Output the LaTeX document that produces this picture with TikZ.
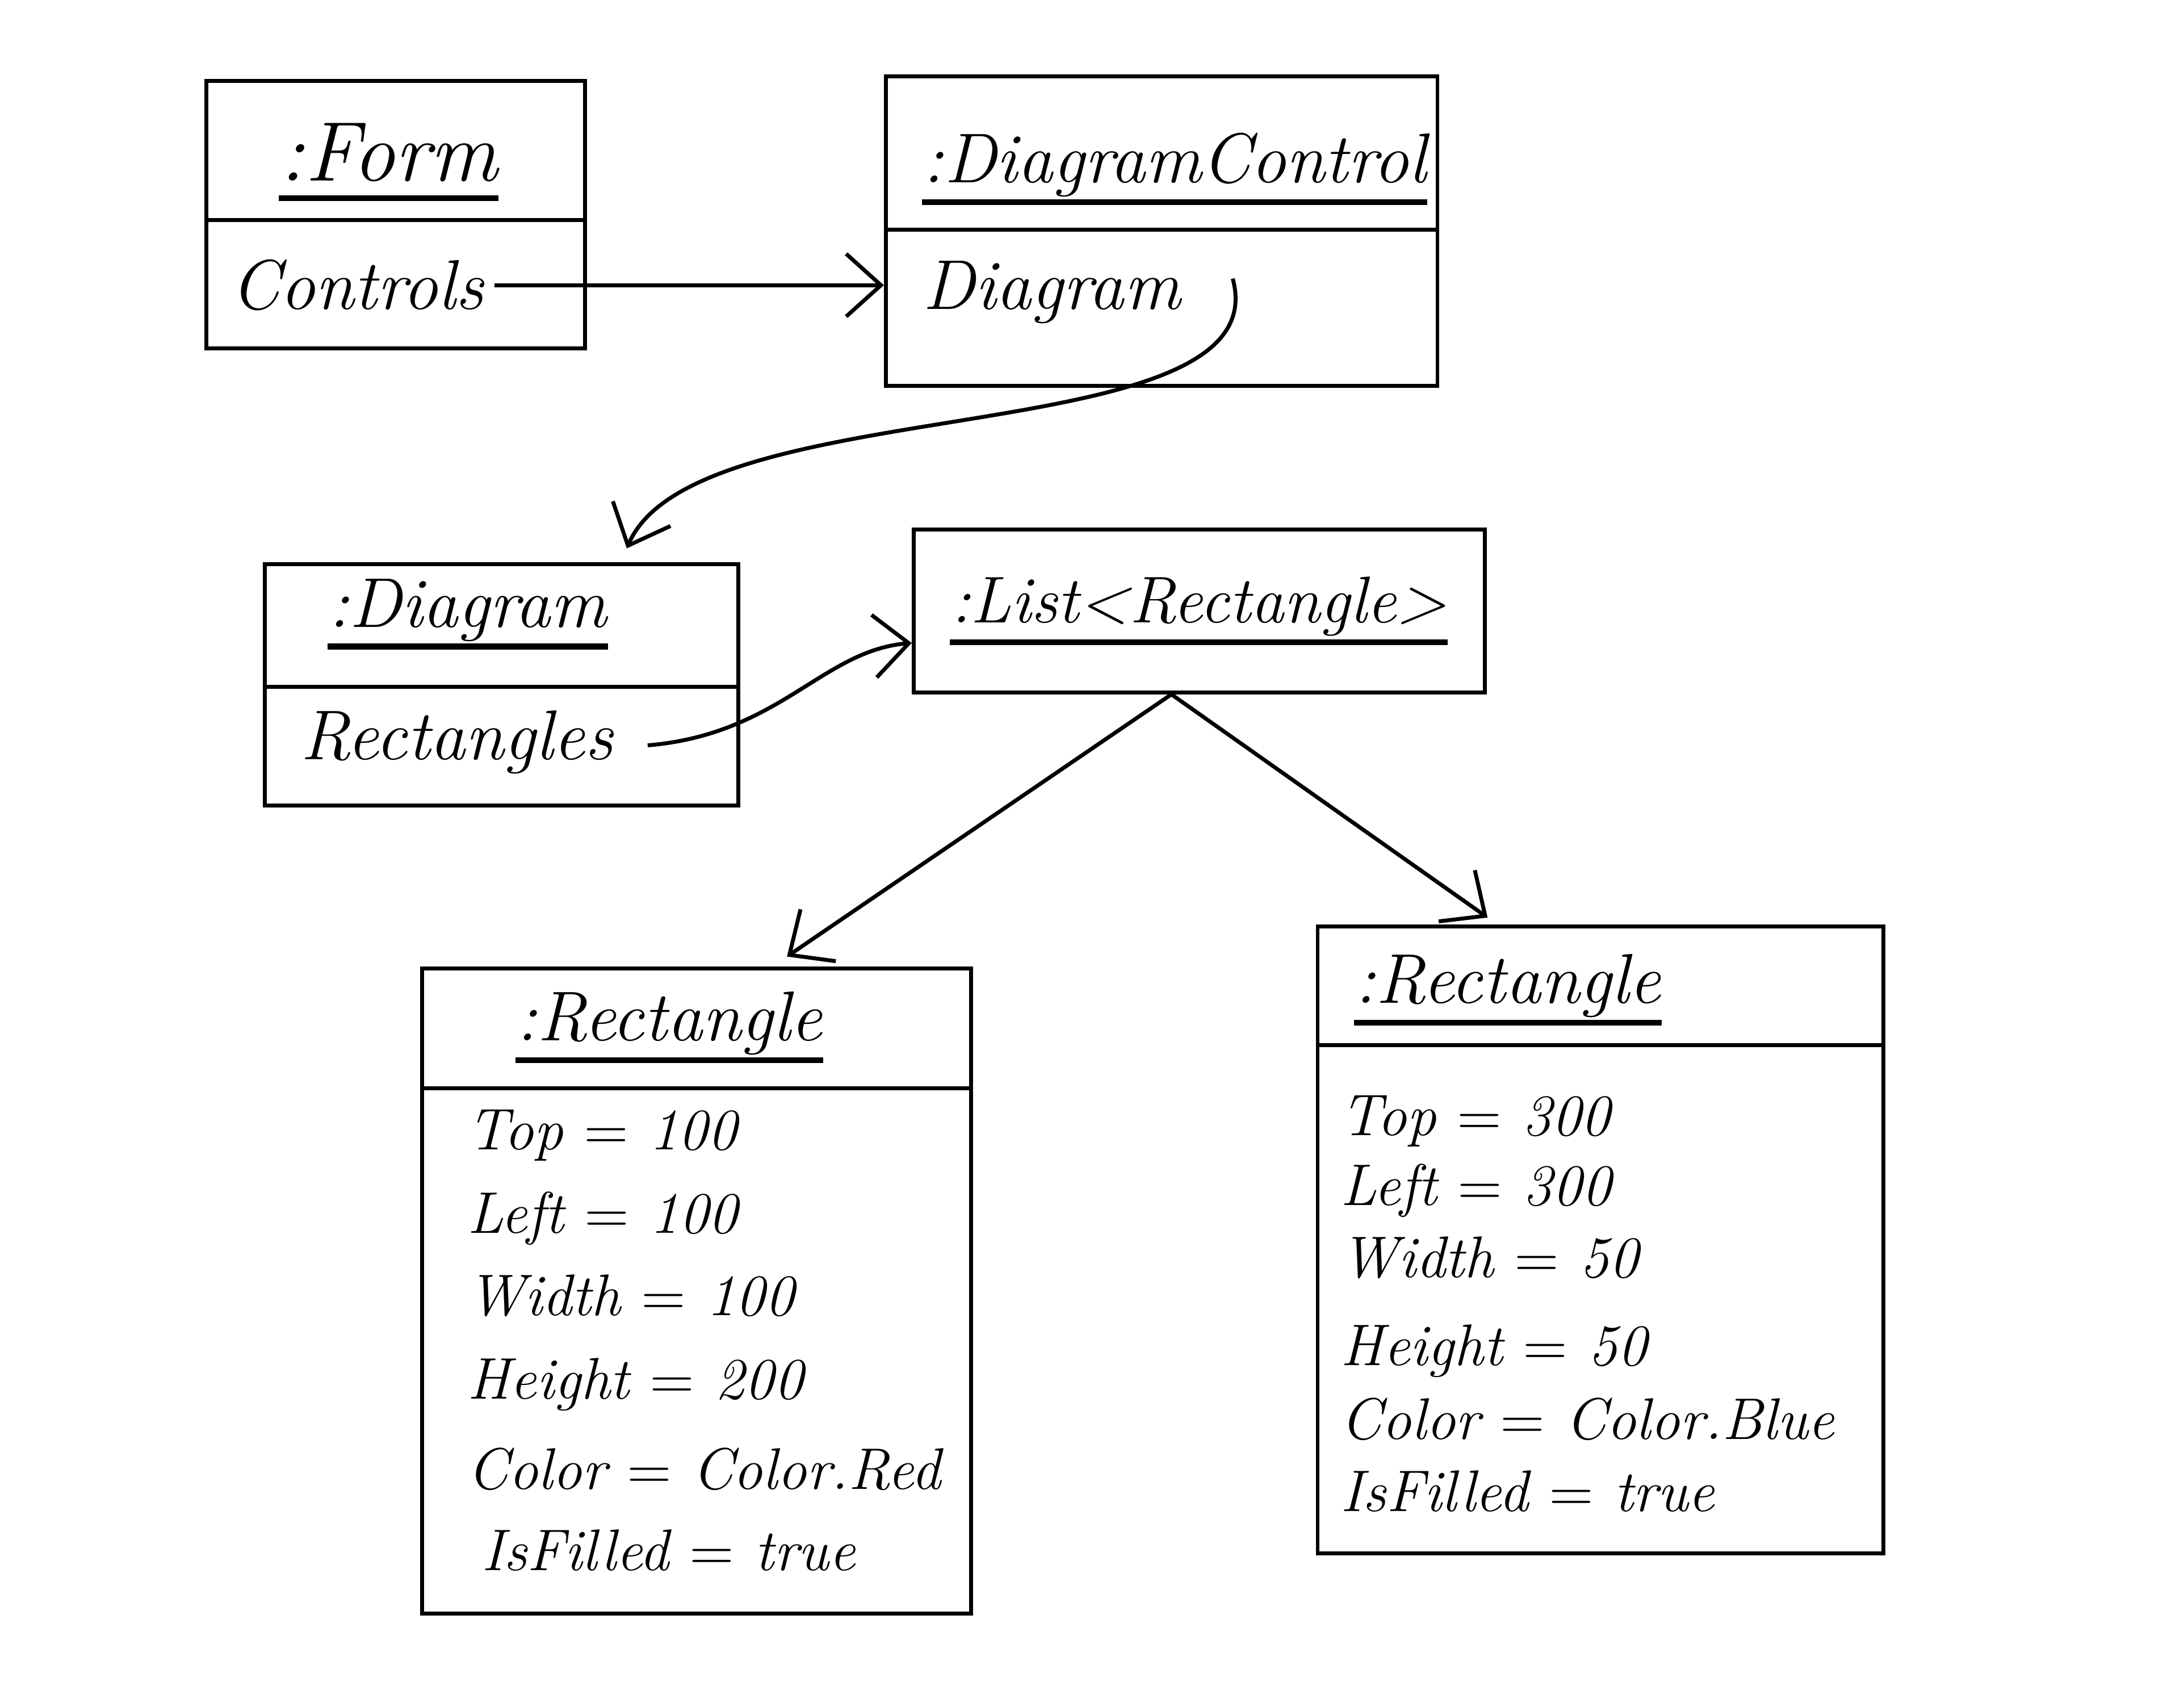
\documentclass[tikz,border=0pt]{standalone}
\usetikzlibrary{arrows.meta}

\begin{document}
\begin{tikzpicture}
\tikzset{
  ObjStyle/.style = {draw, thick, inner sep=0pt},
  TitleStyle/.style = {font = \Large\itshape, anchor=base west, inner sep=0pt},
  AttrStyle/.style = {font = \Large\itshape, anchor=base west, inner sep=0pt},
  ValStyle/.style = {font = \large\itshape, anchor=base west, inner sep=0pt},
  LineStyle/.style = {thick},
  UnderStyle/.style = {very thick},
  LinkStyle/.style = {thick, -{Straight Barb[length=2.5mm, width=4.5mm]}},
}
  \useasboundingbox (0,0) rectangle (15.68,12.07);

  % :Form
  \node[ObjStyle, minimum width=2.72cm, minimum height=1.92cm] (Form) at (2.84,10.53) {};
  \draw[LineStyle] (Form.west |- 0,10.49) -- (Form.east |- 0,10.49);
  \node[TitleStyle, font=\LARGE\itshape] (tForm) at (2.00,10.77) {:Form};
  \draw[UnderStyle] ([yshift=-3.5pt]tForm.base west) -- ([yshift=-3.5pt]tForm.base east);
  \node[AttrStyle] (aControls) at (1.65,9.85) {Controls};

  % :DiagramControl
  \node[ObjStyle, minimum width=3.96cm, minimum height=2.22cm] (DCtrl) at (8.34,10.41) {};
  \draw[LineStyle] (DCtrl.west |- 0,10.42) -- (DCtrl.east |- 0,10.42);
  \node[TitleStyle] (tDCtrl) at (6.62,10.76) {:DiagramControl};
  \draw[UnderStyle] ([yshift=-4pt]tDCtrl.base west) -- ([yshift=-4pt]tDCtrl.base east);
  \node[AttrStyle] (aDiagram) at (6.62,9.85) {Diagram};

  % :Diagram
  \node[ObjStyle, minimum width=3.40cm, minimum height=1.73cm] (Dgm) at (3.60,7.155) {};
  \draw[LineStyle] (Dgm.west |- 0,7.14) -- (Dgm.east |- 0,7.14);
  \node[TitleStyle] (tDgm) at (2.35,7.57) {:Diagram};
  \draw[UnderStyle] ([yshift=-4pt]tDgm.base west) -- ([yshift=-4pt]tDgm.base east);
  \node[AttrStyle] (aRects) at (2.15,6.62) {Rectangles};

  % :List<Rectangle>
  \node[ObjStyle, minimum width=4.10cm, minimum height=1.17cm] (Lst) at (8.61,7.685) {};
  \node[TitleStyle, font=\fontsize{13.5}{16}\selectfont\itshape] (tLst) at (6.82,7.60) {:List<Rectangle>};
  \draw[UnderStyle] ([yshift=-4pt]tLst.base west) -- ([yshift=-4pt]tLst.base east);

  % first :Rectangle
  \node[ObjStyle, minimum width=3.94cm, minimum height=4.63cm] (RectA) at (5.00,2.805) {};
  \draw[LineStyle] (RectA.west |- 0,4.26) -- (RectA.east |- 0,4.26);
  \node[TitleStyle] (tRectA) at (3.70,4.60) {:Rectangle};
  \draw[UnderStyle] ([yshift=-4pt]tRectA.base west) -- ([yshift=-4pt]tRectA.base east);
  \node[ValStyle] (aTopA)    at (3.35,3.82) {Top $=$ 100};
  \node[ValStyle] (aLeftA)   at (3.35,3.22) {Left $=$ 100};
  \node[ValStyle] (aWidthA)  at (3.35,2.63) {Width $=$ 100};
  \node[ValStyle] (aHeightA) at (3.35,2.03) {Height $=$ 200};
  \node[ValStyle] (aColorA)  at (3.35,1.38) {Color $=$ Color.Red};
  \node[ValStyle] (aFillA)   at (3.45,0.80) {IsFilled $=$ true};

  % second :Rectangle
  \node[ObjStyle, minimum width=4.06cm, minimum height=4.50cm] (RectB) at (11.49,3.17) {};
  \draw[LineStyle] (RectB.west |- 0,4.57) -- (RectB.east |- 0,4.57);
  \node[TitleStyle] (tRectB) at (9.72,4.87) {:Rectangle};
  \draw[UnderStyle] ([yshift=-4pt]tRectB.base west) -- ([yshift=-4pt]tRectB.base east);
  \node[ValStyle] (aTopB)    at (9.62,3.92) {Top $=$ 300};
  \node[ValStyle] (aLeftB)   at (9.62,3.42) {Left $=$ 300};
  \node[ValStyle] (aWidthB)  at (9.62,2.90) {Width $=$ 50};
  \node[ValStyle] (aHeightB) at (9.62,2.27) {Height $=$ 50};
  \node[ValStyle] (aColorB)  at (9.62,1.74) {Color $=$ Color.Blue};
  \node[ValStyle] (aFillB)   at (9.62,1.22) {IsFilled $=$ true};

  % links
  \coordinate (cDiagram) at (8.85,10.07);
  \coordinate (cRects) at (4.65,6.72);
  \draw[LinkStyle] ([xshift=2pt]aControls.east) -- (DCtrl.west |- aControls.east);
  \draw[LinkStyle] (cDiagram) .. controls (9.2,8.8) and (5.0,9.3) .. ([xshift=0.9cm, yshift=0.1cm]Dgm.north);
  \draw[LinkStyle] (cRects) .. controls (5.6,6.8) and (5.9,7.4) .. ([yshift=-0.23cm]Lst.west);
  \draw[LinkStyle] ([xshift=-0.2cm]Lst.south) -- ([xshift=0.65cm, yshift=0.07cm]RectA.north);
  \draw[LinkStyle] ([xshift=-0.2cm]Lst.south) -- ([xshift=-0.81cm, yshift=0.05cm]RectB.north);

\end{tikzpicture}
\end{document}
